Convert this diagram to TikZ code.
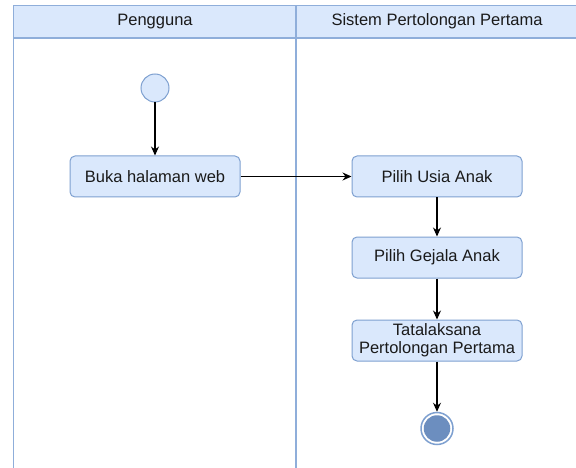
\documentclass[tikz,border=0pt]{standalone}
\usepackage{fontspec}
\setmainfont{Liberation Sans}
\usetikzlibrary{arrows.meta}
\definecolor{laneFill}{HTML}{DAE8FC}
\definecolor{laneStroke}{HTML}{8FAEDA}
\definecolor{boxStroke}{HTML}{7EA0D0}
\definecolor{endFill}{HTML}{6C8EBF}
\definecolor{txt}{HTML}{1A1A1A}
\tikzset{
  actbox/.style={draw=boxStroke, fill=laneFill, line width=1pt, rounded corners=5pt,
    minimum width=170pt, minimum height=41pt, inner sep=0pt, align=center,
    font=\fontsize{16.5}{19}\selectfont, text=txt},
  flow/.style={-{Stealth[length=9pt,width=8pt]}, line width=1.1pt, black},
  lanetitle/.style={font=\fontsize{16.5}{19}\selectfont, text=txt}
}
\begin{document}
\begin{tikzpicture}[x=1pt,y=-1pt]
\useasboundingbox (0,0) rectangle (576,468);
\clip (0,0) rectangle (576,468);
% lanes
\fill[laneFill] (13.5,5.5) rectangle (600,38);
\draw[laneStroke, line width=1.6pt] (13.5,480) -- (13.5,5.5) -- (600,5.5);
\draw[laneStroke, line width=1.6pt] (13.5,38) -- (600,38);
\draw[laneStroke, line width=1.6pt] (296,5.5) -- (296,480);
\node[lanetitle] (t1) at (155,21.5) {Pengguna};
\node[lanetitle] (t2) at (437,21.5) {Sistem Pertolongan Pertama};
% nodes
\node[circle, draw=boxStroke, fill=laneFill, line width=1pt, minimum size=28pt, inner sep=0pt] (start) at (155,88) {};
\node[actbox] (buka) at (155,176.5) {Buka halaman web};
\node[actbox] (usia) at (437,176.5) {Pilih Usia Anak};
\node[actbox] (gejala) at (437,257.5) {Pilih Gejala Anak};
\node[actbox, font=\fontsize{16.5}{18}\selectfont] (tata) at (437,340.5) {Tatalaksana\\Pertolongan Pertama};
\node[circle, draw=boxStroke, fill=white, line width=1.5pt, minimum size=32pt, inner sep=0pt] (end) at (437,428.5) {};
\node[circle, fill=endFill, minimum size=26.5pt, inner sep=0pt] (endin) at (437,428.5) {};
% connectors
\draw[flow] (start) -- (buka);
\draw[flow] (buka) -- (usia);
\draw[flow] (usia) -- (gejala);
\draw[flow] (gejala) -- (tata);
\draw[flow] (tata) -- (end);
\end{tikzpicture}
\end{document}
